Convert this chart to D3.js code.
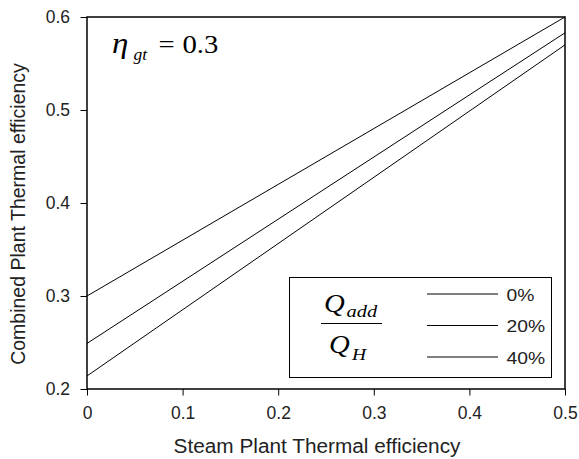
<!DOCTYPE html>
<html>
<head>
<meta charset="utf-8">
<script src="https://cdn.jsdelivr.net/npm/d3@7"></script>
<style>
  body { margin: 0; background: #fff; }
  svg { display: block; }
</style>
</head>
<body>
<svg id="chart" width="579" height="459"></svg>
<script>
// Steam plant thermal efficiency (x) at the ends of each curve
const steamEff = [0, 0.5];
// Combined plant efficiency for each supplementary heat ratio Q_add/Q_H
const seriesLabels = ["0%", "20%", "40%"];
const combined0 = [0.300, 0.600];
const combined20 = [0.249, 0.583];
const combined40 = [0.214, 0.570];
const xTicks = [0, 0.1, 0.2, 0.3, 0.4, 0.5];
const yTicks = [0.2, 0.3, 0.4, 0.5, 0.6];

const seriesValues = [combined0, combined20, combined40];

const SANS = '"Liberation Sans", Arial, Helvetica, sans-serif';
const SERIF = '"Liberation Serif", "Times New Roman", Times, serif';

const svg = d3.select("#chart");
const margin = { left: 87, right: 14, top: 17, bottom: 70 };
const W = 579, H = 459;

const x = d3.scaleLinear().domain([0, 0.5]).range([margin.left, W - margin.right]);
const y = d3.scaleLinear().domain([0.2, 0.6]).range([H - margin.bottom, margin.top]);

// text helper: places a label and widens its glyphs horizontally
function label(parent, px, py, str, opts) {
  const t = parent.append("text")
    .attr("transform", `translate(${px},${py}) scale(${opts.sx || 1},1)`)
    .style("font-family", opts.family || SANS)
    .style("font-size", opts.size + "px")
    .style("font-style", opts.italic ? "italic" : "normal")
    .attr("text-anchor", opts.anchor || "start")
    .attr("fill", "#000")
    .text(str);
  return t;
}

// curves
const line = d3.line().x((d, i) => x(steamEff[i])).y(d => y(d));
svg.append("g").selectAll("path")
  .data(seriesValues)
  .join("path")
  .attr("d", line)
  .attr("fill", "none").attr("stroke", "#000").attr("stroke-width", 1);

// frame
svg.append("rect")
  .attr("x", x(0)).attr("y", y(0.6))
  .attr("width", x(0.5) - x(0)).attr("height", y(0.2) - y(0.6))
  .attr("fill", "none").attr("stroke", "#000").attr("stroke-width", 1.5);

// axes
const xAxis = svg.append("g")
  .attr("transform", `translate(0,${y(0.2)})`)
  .call(d3.axisBottom(x).tickValues(xTicks).tickSize(6.5).tickPadding(11)
    .tickFormat(d => d === 0 ? "0" : d3.format(".1f")(d)));
const yAxis = svg.append("g")
  .attr("transform", `translate(${x(0)},0)`)
  .call(d3.axisLeft(y).tickValues(yTicks).tickSize(6.5).tickPadding(10.5)
    .tickFormat(d3.format(".1f")));
[xAxis, yAxis].forEach(g => {
  g.select(".domain").remove();
  g.selectAll(".tick line").attr("stroke", "#000").attr("stroke-width", 1);
  g.selectAll(".tick text")
    .attr("fill", "#222")
    .style("font-size", "17.5px")
    .style("font-family", SANS);
});

// axis titles
label(svg, 317, 453, "Steam Plant Thermal efficiency", { size: 20, sx: 1.04, anchor: "middle" })
  .attr("fill", "#222");
svg.append("text")
  .attr("transform", `translate(25,214) rotate(-90)`)
  .attr("text-anchor", "middle")
  .style("font-family", SANS).style("font-size", "19.5px")
  .attr("fill", "#222")
  .text("Combined Plant Thermal efficiency");

// gas turbine efficiency annotation
label(svg, 112, 52.7, "η", { family: SERIF, size: 30, sx: 1.1, italic: true });
label(svg, 133.5, 59.5, "gt", { family: SERIF, size: 17.5, sx: 1.0, italic: true });
label(svg, 158.5, 52.7, "=", { family: SERIF, size: 25, sx: 1.15 });
label(svg, 182.5, 52.7, "0.3", { family: SERIF, size: 25, sx: 1.15 });

// legend
const lg = svg.append("g");
lg.append("rect")
  .attr("x", 289.5).attr("y", 277.5).attr("width", 262).attr("height", 100)
  .attr("fill", "#fff").attr("stroke", "#000").attr("stroke-width", 1);
const legY = [294, 325.5, 357];
seriesLabels.forEach((lab, i) => {
  lg.append("line")
    .attr("x1", 427).attr("x2", 498).attr("y1", legY[i]).attr("y2", legY[i])
    .attr("stroke", "#000").attr("stroke-width", 1);
  label(lg, 506.5, legY[i] + 6.5, lab, { size: 16.5, sx: 1.17 }).attr("fill", "#222");
});
// Q_add / Q_H fraction
label(lg, 324, 312, "Q", { family: SERIF, size: 25, sx: 1.15, italic: true });
label(lg, 346.5, 317.3, "add", { family: SERIF, size: 17, sx: 1.2, italic: true });
lg.append("line").attr("x1", 321).attr("x2", 382).attr("y1", 323.5).attr("y2", 323.5)
  .attr("stroke", "#000").attr("stroke-width", 1);
label(lg, 329, 353, "Q", { family: SERIF, size: 25, sx: 1.15, italic: true });
label(lg, 352, 359.5, "H", { family: SERIF, size: 17, sx: 1.15, italic: true });
</script>
</body>
</html>
